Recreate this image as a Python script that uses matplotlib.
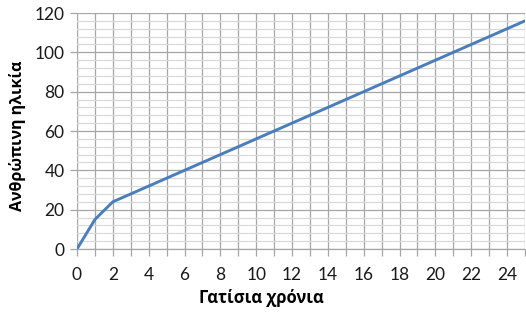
import matplotlib as mpl

mpl.use("agg")

import matplotlib.pyplot as plt
from matplotlib.ticker import MultipleLocator

# cat years -> human age
cat_years = [0, 1, 2, 3, 4, 5, 6, 7, 8, 9, 10, 11, 12, 13, 14, 15, 16, 17, 18,
             19, 20, 21, 22, 23, 24, 25]
human_age = [0, 15, 24, 28, 32, 36, 40, 44, 48, 52, 56, 60, 64, 68, 72, 76, 80,
             84, 88, 92, 96, 100, 104, 108, 112, 116]

x_label = "Γατίσια χρόνια"
y_label = "Ανθρώπινη ηλικία"

LINE_COLOR = "#4a7ebb"
MAJOR_GRID = "#a6a6a6"
MINOR_GRID = "#d9d9d9"
TICK_FONT = ["Lato", "DejaVu Sans"]
LABEL_FONT = ["Open Sans", "DejaVu Sans"]

fig = plt.figure(figsize=(5.26, 3.13), dpi=100)
ax = fig.add_axes([77 / 526, 1 - 249 / 313, 448 / 526, 236 / 313])

ax.plot(cat_years, human_age, color=LINE_COLOR, linewidth=2.1,
        solid_capstyle="round", zorder=3)

ax.set_xlim(0, 25)
ax.set_ylim(0, 120)

ax.xaxis.set_major_locator(MultipleLocator(2))
ax.xaxis.set_minor_locator(MultipleLocator(1))
ax.yaxis.set_major_locator(MultipleLocator(20))
ax.yaxis.set_minor_locator(MultipleLocator(4))

# gridlines: every year vertically, every 20 / 4 horizontally
ax.grid(which="major", axis="both", color=MAJOR_GRID, linewidth=0.9)
ax.grid(which="minor", axis="x", color=MAJOR_GRID, linewidth=0.9)
ax.grid(which="minor", axis="y", color=MINOR_GRID, linewidth=0.9)
ax.set_axisbelow(True)

for side in ["top", "right", "left"]:
    ax.spines[side].set_visible(False)
ax.spines["bottom"].set_color(MAJOR_GRID)
ax.spines["bottom"].set_linewidth(0.9)

ax.tick_params(axis="x", which="both", length=5, width=0.9, color=MAJOR_GRID,
               pad=8)
ax.tick_params(axis="y", which="major", length=5, width=0.9, color=MAJOR_GRID,
               pad=4)
ax.tick_params(axis="y", which="minor", length=0)

for lbl in ax.get_xticklabels() + ax.get_yticklabels():
    lbl.set_family(TICK_FONT)
    lbl.set_fontsize(12.5)
    lbl.set_color("#1a1a1a")

fig.text(0.497, 1 - 298 / 313, x_label, ha="center", va="center",
         fontsize=12, fontweight="bold", family=LABEL_FONT)
fig.text(18 / 526, 1 - 136 / 313, y_label, ha="center", va="center",
         rotation=90, fontsize=11.5, fontweight="bold", family=LABEL_FONT)

fig.savefig("out.png", dpi=100)
